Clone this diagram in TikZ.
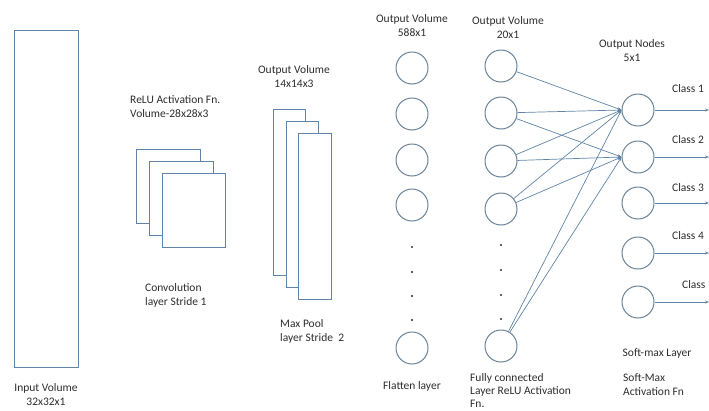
\documentclass[tikz,border=0pt]{standalone}
\usepackage{fontspec}
\setmainfont{Carlito}
\usetikzlibrary{arrows.meta}
\definecolor{edgeblue}{RGB}{96,132,168}
\definecolor{circgray}{RGB}{105,130,150}
\definecolor{txtgray}{RGB}{45,45,45}
\tikzset{
  lbl/.style={font=\fontsize{11.5}{14}\selectfont, text=txtgray, inner sep=0pt, align=center},
  lbll/.style={lbl, align=left, anchor=west},
  neuron/.style={circle, draw=circgray, line width=1pt, minimum size=32pt, inner sep=0pt},
  vol/.style={draw=edgeblue, line width=1pt, fill=white},
  dotn/.style={circle, fill=txtgray, inner sep=0pt, minimum size=2.4pt},
  conn/.style={draw=edgeblue, line width=0.7pt, -{Stealth[length=4pt,width=3pt]}},
}
\begin{document}
\begin{tikzpicture}[x=1pt,y=-1pt]
\useasboundingbox (0,0) rectangle (709,410);
% input volume
\draw[vol] (14,30) rectangle (78,367);
\node[lbl] (inlbl) at (46,395) {Input Volume\\32x32x1};
% convolution squares
\draw[vol] (136,149) rectangle (200,223);
\draw[vol] (149,161) rectangle (213,235);
\draw[vol] (162,173) rectangle (225,247);
\node[lbll] (relulbl) at (130,107) {ReLU Activation Fn.\\Volume-28x28x3};
\node[lbll] (convlbl) at (145,295) {Convolution\\layer Stride 1};
% max pool rects
\draw[vol] (273,109) rectangle (305,275);
\draw[vol] (286,121) rectangle (318,287);
\draw[vol] (298,133) rectangle (331,299);
\node[lbl] (poolvol) at (294,77) {Output Volume\\14x14x3};
\node[lbll] (poollbl) at (280,331) {Max Pool\\layer Stride\ \ 2};
% flatten layer
\node[lbl] (flatvol) at (412,26) {Output Volume\\588x1};
\foreach \i/\y in {1/68,2/114,3/160,4/205,5/348} {
  \node[neuron] (f\i) at (412,\y) {};
}
\foreach \i/\y in {1/247,2/272,3/296,4/320} {
  \node[dotn] (fd\i) at (412,\y) {};
}
\node[lbl] (flatlbl) at (412,386) {Flatten layer};
% fully connected layer
\node[lbl] (fcvol) at (508,28) {Output Volume\\20x1};
\foreach \i/\y in {1/66,2/113,3/161,4/209,5/346} {
  \node[neuron] (h\i) at (501,\y) {};
}
\foreach \i/\y in {1/245,2/270,3/295,4/319} {
  \node[dotn] (hd\i) at (501,\y) {};
}
\node[lbll, font=\fontsize{11.5}{13}\selectfont] (fclbl) at (470,391) {Fully connected\\Layer ReLU Activation\\Fn.};
% output layer
\node[lbl] (outvol) at (632,51) {Output Nodes\\5x1};
\foreach \i/\y in {1/110,2/157,3/203,4/253,5/302} {
  \node[neuron] (o\i) at (638,\y) {};
  \coordinate (e\i) at (709,\y);
  \draw[conn] (o\i.east) -- (e\i);
}
\node[lbl, anchor=west] (c1) at (672,89) {Class 1};
\node[lbl, anchor=west] (c2) at (672,140) {Class 2};
\node[lbl, anchor=west] (c3) at (672,188) {Class 3};
\node[lbl, anchor=west] (c4) at (672,236) {Class 4};
\node[lbl, anchor=west] (c5) at (682,285) {Class};
\node[lbl] (smlbl) at (657,353) {Soft-max Layer};
\node[lbll] (smact) at (623,385) {Soft-Max\\Activation Fn};
% connections
\draw[conn] (h1) -- (o1.west);
\foreach \i in {2,3,4,5} {
  \draw[conn] (h\i) -- (o1.west);
  \draw[conn] (h\i) -- (o2.west);
}
\end{tikzpicture}
\end{document}
